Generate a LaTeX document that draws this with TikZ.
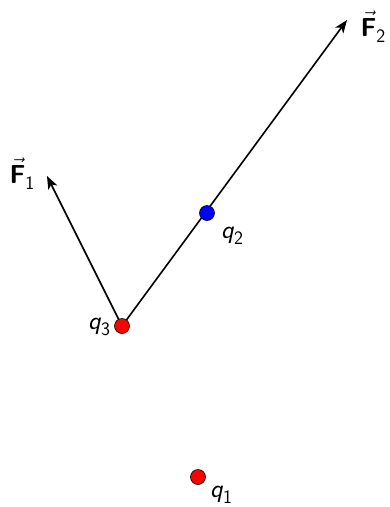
\documentclass[tikz,border=0pt]{standalone}
\usepackage{amsmath}
\usepackage{fontspec}
\usetikzlibrary{arrows.meta}
\newcommand{\mysub}[1]{\raisebox{-0.25em}{\fontsize{19}{20}\selectfont #1}}
\begin{document}
\begin{tikzpicture}[x=1pt,y=-1pt,
  charge/.style={circle,draw=black,line width=0.6pt,inner sep=0pt,minimum size=15pt},
  force/.style={line width=1.6pt,-{Stealth[length=13pt,width=10pt,inset=3.5pt]}},
  lbl/.style={font=\fontsize{26}{28}\selectfont\sffamily,inner sep=0pt}]
\useasboundingbox (0,0) rectangle (390,507);
\coordinate (f1) at (47,176);
\coordinate (f2) at (347,20);
\draw[force] (122,326) -- (f1);
\draw[force] (122,326) -- (f2);
\node[charge,fill=red] (q3) at (122,326) {};
\node[charge,fill=blue] (q2) at (207,213) {};
\node[charge,fill=red] (q1) at (198,477) {};
\node[lbl] (lq3) at (99,327) {\textit{q}\mysub{3}};
\node[lbl] (lq2) at (232,236) {\textit{q}\mysub{2}};
\node[lbl] (lq1) at (221,495) {\textit{q}\mysub{1}};
\node[lbl] (lf1) at (22,174) {$\vec{\text{\sffamily\bfseries F}}$\mysub{1}};
\node[lbl] (lf2) at (373,27) {$\vec{\text{\sffamily\bfseries F}}$\mysub{2}};
\end{tikzpicture}
\end{document}
